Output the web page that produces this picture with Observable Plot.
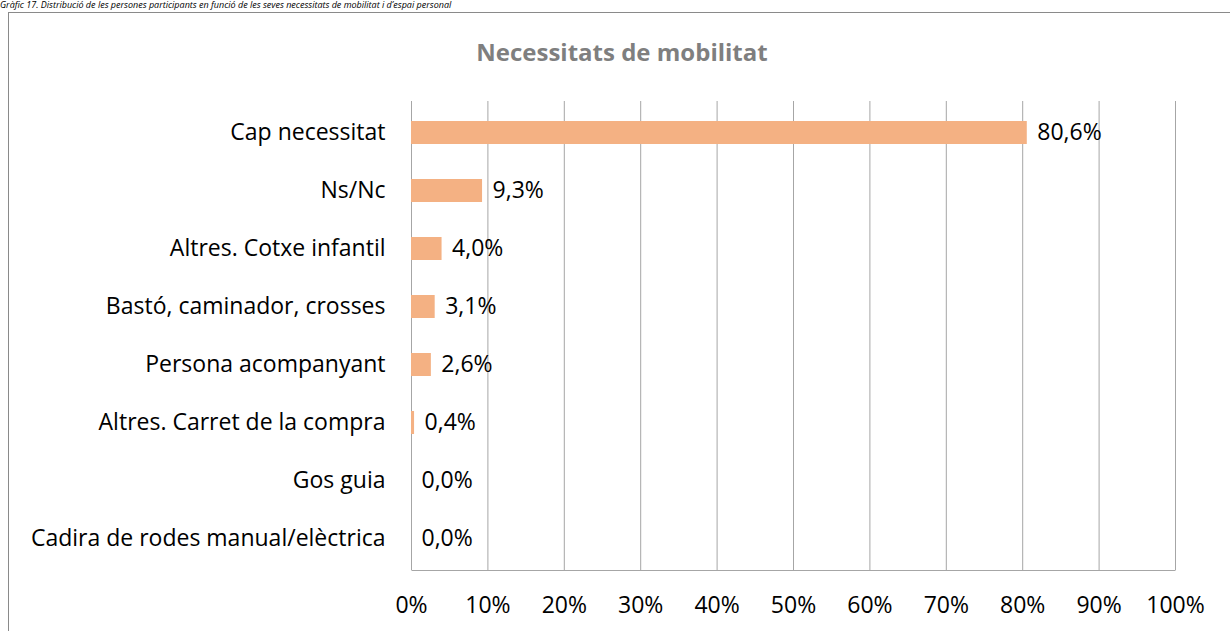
<!DOCTYPE html>
<html>
<head>
<meta charset="utf-8">
<script src="https://cdn.jsdelivr.net/npm/d3@7"></script>
<script src="https://cdn.jsdelivr.net/npm/@observablehq/plot@0.6"></script>
<style>
  html, body { margin: 0; padding: 0; background: #fff; overflow: hidden; }
  body { width: 1230px; height: 631px; position: relative; font-family: "Open Sans", sans-serif; }
  #caption { position: absolute; left: 0; top: -1px; font-style: italic; font-size: 9px; line-height: 11px; white-space: nowrap; color: #000; }
  #box { position: absolute; left: 8px; top: 12px; width: 1260px; height: 700px; border: 1px solid #8a8a8a; box-sizing: border-box; }
  #title { position: absolute; left: 0; width: 1244px; top: 35px; line-height: 34px; text-align: center; font-weight: bold; font-size: 24px; color: #7f7f7f; }
  #chart { position: absolute; left: 0; top: 0; }
</style>
</head>
<body>
<div id="caption">Gràfic 17. Distribució de les persones participants en funció de les seves necessitats de mobilitat i d’espai personal</div>
<div id="box"></div>
<div id="title">Necessitats de mobilitat</div>
<div id="chart"></div>
<script>
const categories = [
  "Cap necessitat",
  "Ns/Nc",
  "Altres. Cotxe infantil",
  "Bastó, caminador, crosses",
  "Persona acompanyant",
  "Altres. Carret de la compra",
  "Gos guia",
  "Cadira de rodes manual/elèctrica"
];
const values = [80.6, 9.3, 4.0, 3.1, 2.6, 0.4, 0.0, 0.0];
const xTicks = [0, 10, 20, 30, 40, 50, 60, 70, 80, 90, 100];

const data = categories.map((c, i) => ({category: c, value: values[i]}));
const fmt = v => v.toFixed(1).replace(".", ",") + "%";

const W = 1230, H = 631, ML = 411, MR = 55, MT = 101, MB = 61;
const fw = W - ML - MR, fh = H - MT - MB;

const chart = Plot.plot({
  width: W,
  height: H,
  marginLeft: ML,
  marginRight: MR,
  marginTop: MT,
  marginBottom: MB,
  style: {fontFamily: "'Open Sans', sans-serif", fontSize: "23px", color: "#000", background: "transparent"},
  x: {domain: [0, 100], ticks: xTicks, tickFormat: d => d + "%", tickSize: 0, tickPadding: 26, label: null},
  y: {domain: categories, paddingInner: 0.6, paddingOuter: 0.3, tickSize: 0, tickPadding: 26, label: null},
  marks: [
    Plot.ruleX(xTicks, {stroke: "#a6a6a6", strokeWidth: 1}),
    Plot.frame({stroke: "#a6a6a6", strokeDasharray: `0 ${fw + fh} ${fw} ${fh}`}),
    Plot.barX(data, {x: "value", y: "category", fill: "#F4B183"}),
    Plot.text(data, {x: "value", y: "category", text: d => fmt(d.value), textAnchor: "start", dx: 10, fontSize: 23, fill: "#000"})
  ]
});
document.getElementById("chart").appendChild(chart);
</script>
</body>
</html>
